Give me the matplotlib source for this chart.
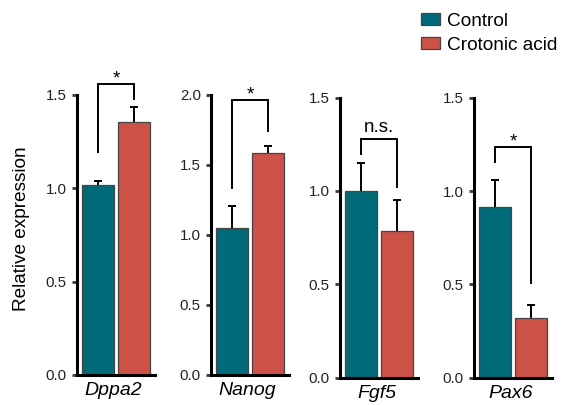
import matplotlib
matplotlib.use("Agg")
import matplotlib.pyplot as plt
from matplotlib.patches import Patch

plt.rcParams['font.family'] = ['Liberation Sans', 'DejaVu Sans']

genes = ["Dppa2", "Nanog", "Fgf5", "Pax6"]
groups = ["Control", "Crotonic acid"]
control_mean = [1.02, 1.05, 1.00, 0.915]
control_err = [0.02, 0.16, 0.15, 0.145]
acid_mean = [1.355, 1.585, 0.783, 0.322]
acid_err = [0.082, 0.052, 0.17, 0.065]
sig_labels = ["*", "*", "n.s.", "*"]
bracket_top = [1.56, 1.967, 1.28, 1.237]
bracket_left_end = [1.193, 1.333, 1.20, 1.154]
bracket_right_end = [1.477, 1.745, 1.023, 0.51]
y_max = [1.5, 2.0, 1.5, 1.5]
y_step = 0.5

colors = ["#006a79", "#cc5147"]
edge = "#454545"

W, H = 562, 405
fig = plt.figure(figsize=(W / 100, H / 100), dpi=100)

lefts_px = [77, 211, 340, 474]
bottoms_px = [375, 375, 377.5, 377.7]
ax_w, ax_h = 78, 280

for i, g in enumerate(genes):
    ax = fig.add_axes([lefts_px[i] / W, 1 - bottoms_px[i] / H, ax_w / W, ax_h / H])
    means = [control_mean[i], acid_mean[i]]
    errs = [control_err[i], acid_err[i]]
    xs = [0, 1]
    ax.bar(xs, means, width=0.9, color=colors, edgecolor=edge, linewidth=0.9, zorder=2)
    ax.errorbar(xs, means, yerr=errs, fmt='none', ecolor='black',
                elinewidth=1.4, capsize=3.2, capthick=1.4, zorder=1)
    # significance bracket
    ax.plot([0, 0, 1, 1], [bracket_left_end[i], bracket_top[i], bracket_top[i], bracket_right_end[i]],
            color='black', lw=1.4, clip_on=False, solid_joinstyle='miter')
    off = 6.5 if sig_labels[i] == "n.s." else 0.5
    ax.annotate(sig_labels[i], xy=(0.5, bracket_top[i]), xytext=(0, off),
                textcoords='offset pixels', ha='center', va='baseline',
                fontsize=13.5, annotation_clip=False)
    ax.set_xlim(-0.6, 1.6)
    ax.set_ylim(0, y_max[i])
    n = int(round(y_max[i] / y_step))
    ticks = [k * y_step for k in range(n + 1)]
    ax.set_yticks(ticks)
    ax.set_yticklabels([f"{t:.1f}" for t in ticks])
    ax.set_xticks([])
    for s in ['top', 'right']:
        ax.spines[s].set_visible(False)
    for s in ['left', 'bottom']:
        ax.spines[s].set_linewidth(2.2)
        ax.spines[s].set_color('black')
    ax.tick_params(axis='y', length=3.8, width=2, color='#3a3a3a', pad=3.5,
                   labelsize=10.8, labelcolor='#222222')
    ax.patch.set_alpha(0)
    ax.text(0.47, -0.026, g, transform=ax.transAxes, ha='center', va='top',
            fontsize=14, style='italic')

fig.text(22 / W, 1 - 229 / H, "Relative expression", rotation=90,
         ha='center', va='center', fontsize=13.7)

handles = [Patch(facecolor=colors[k], edgecolor=edge, linewidth=0.9) for k in range(2)]
fig.legend(handles, groups, loc='upper left', bbox_to_anchor=(420.5 / W, 1 - 12.5 / H),
           frameon=False, fontsize=13.7, handlelength=1.05, handleheight=0.62,
           handletextpad=0.35, labelspacing=0.38, borderpad=0, borderaxespad=0)

fig.savefig("out.png", dpi=100)
